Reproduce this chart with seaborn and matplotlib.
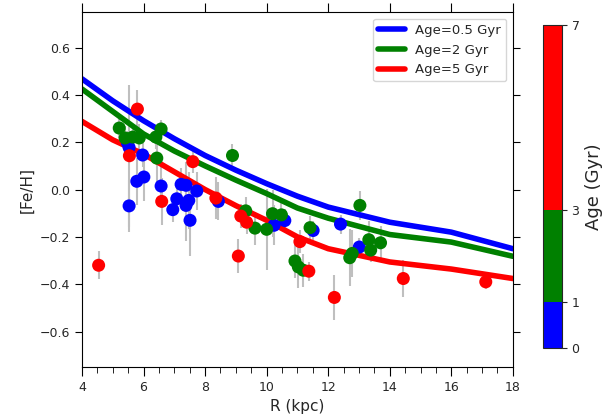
import numpy as np
import pandas as pd
import seaborn as sns
import matplotlib
matplotlib.use("Agg")
import matplotlib.pyplot as plt
from matplotlib.colors import ListedColormap, BoundaryNorm
from matplotlib.cm import ScalarMappable
from matplotlib.ticker import MultipleLocator

## model gradients
R_model = [4, 5, 6, 7, 8, 9, 10, 11, 12, 14, 16, 18]
feh_05 = [0.468, 0.375, 0.291, 0.215, 0.144, 0.082, 0.025, -0.028, -0.074, -0.138, -0.180, -0.250]
feh_2 = [0.425, 0.330, 0.235, 0.163, 0.100, 0.040, -0.017, -0.078, -0.121, -0.190, -0.222, -0.282]
feh_5 = [0.288, 0.210, 0.150, 0.075, 0.000, -0.068, -0.130, -0.200, -0.250, -0.306, -0.336, -0.376]

## clusters, young (<1 Gyr)
blue_R = [5.48, 5.53, 5.53, 5.78, 5.97, 6.01, 6.57, 6.95, 7.08, 7.22, 7.38, 7.38, 7.47, 7.51, 7.73, 8.43, 10.24, 10.59, 11.51, 12.40, 13.01]
blue_feh = [0.197, 0.178, -0.069, 0.035, 0.146, 0.053, 0.015, -0.085, -0.039, 0.022, 0.018, -0.067, -0.046, -0.130, -0.006, -0.050, -0.151, -0.131, -0.173, -0.146, -0.243]
blue_err = [0.05, 0.06, 0.11, 0.10, 0.05, 0.10, 0.08, 0.05, 0.05, 0.07, 0.10, 0.15, 0.12, 0.15, 0.08, 0.08, 0.085, 0.05, 0.04, 0.04, 0.04]

## 1-3 Gyr
green_R = [5.21, 5.40, 5.65, 5.86, 6.40, 6.57, 6.43, 8.89, 9.32, 9.62, 10.00, 10.19, 10.48, 10.92, 11.03, 11.19, 11.41, 12.70, 12.78, 13.03, 13.32, 13.38, 13.70]
green_feh = [0.260, 0.218, 0.222, 0.218, 0.222, 0.256, 0.133, 0.144, -0.090, -0.163, -0.168, -0.102, -0.107, -0.302, -0.327, -0.341, -0.161, -0.288, -0.270, -0.067, -0.212, -0.256, -0.225]
green_err = [0.04, 0.05, 0.05, 0.06, 0.05, 0.04, 0.10, 0.05, 0.06, 0.07, 0.17, 0.10, 0.06, 0.07, 0.09, 0.07, 0.05, 0.12, 0.10, 0.06, 0.08, 0.05, 0.07]

## 3-7 Gyr
red_R = [4.54, 5.54, 5.80, 6.59, 7.60, 8.35, 9.08, 9.16, 9.35, 11.08, 11.37, 12.20, 14.44, 17.12]
red_feh = [-0.320, 0.143, 0.340, -0.050, 0.118, -0.036, -0.281, -0.112, -0.138, -0.220, -0.345, -0.456, -0.376, -0.390]
red_err = [0.06, 0.30, 0.08, 0.10, 0.05, 0.09, 0.07, 0.05, 0.05, 0.05, 0.04, 0.095, 0.08, 0.03]

age_bounds = [0, 1, 3, 7]
age_colors = ["blue", "green", "red"]

df = pd.concat([
    pd.DataFrame({"R": blue_R, "feh": blue_feh, "err": blue_err, "grp": "young"}),
    pd.DataFrame({"R": green_R, "feh": green_feh, "err": green_err, "grp": "mid"}),
    pd.DataFrame({"R": red_R, "feh": red_feh, "err": red_err, "grp": "old"}),
], ignore_index=True)

sns.set_style("ticks")
plt.rcParams["font.family"] = ["DejaVu Sans"]

fig = plt.figure(figsize=(6.12, 4.18), dpi=100)
ax = fig.add_axes([0.134, 0.122, 0.704, 0.849])

ax.errorbar(df["R"], df["feh"], yerr=df["err"], fmt="none", ecolor="0.75", elinewidth=1.5, zorder=1)

sns.lineplot(x=R_model, y=feh_05, color="blue", lw=4, label="Age=0.5 Gyr", ax=ax, zorder=2)
sns.lineplot(x=R_model, y=feh_2, color="green", lw=4, label="Age=2 Gyr", ax=ax, zorder=2)
sns.lineplot(x=R_model, y=feh_5, color="red", lw=4, label="Age=5 Gyr", ax=ax, zorder=2)

sns.scatterplot(data=df, x="R", y="feh", hue="grp",
                palette={"young": "blue", "mid": "green", "old": "red"},
                s=88, linewidth=0, legend=False, ax=ax, zorder=3)

ax.set_xlim(4, 18)
ax.set_ylim(-0.75, 0.75)
ax.xaxis.set_major_locator(MultipleLocator(2))
ax.xaxis.set_minor_locator(MultipleLocator(0.5))
ax.yaxis.set_major_locator(MultipleLocator(0.2))
ax.tick_params(which="both", direction="out", top=True, right=True, labelsize=9, color="black")
ax.tick_params(axis="x", which="major", length=6.5)
ax.tick_params(axis="y", which="major", length=5)
ax.tick_params(which="minor", length=4, top=False)
for s in ax.spines.values():
    s.set_color("black")
ax.set_xlabel("R (kpc)", fontsize=11)
ax.set_ylabel("[Fe/H]", fontsize=11)
ax.legend(loc="upper right", fontsize=9.5)

cax = fig.add_axes([0.887, 0.167, 0.031, 0.773])
cmap = ListedColormap(age_colors)
norm = BoundaryNorm(age_bounds, cmap.N)
cb = fig.colorbar(ScalarMappable(norm=norm, cmap=cmap), cax=cax,
                  spacing="proportional", ticks=age_bounds)
cb.ax.tick_params(labelsize=9)
cb.set_label("Age (Gyr)", fontsize=13)

fig.savefig("out.png", dpi=100)
